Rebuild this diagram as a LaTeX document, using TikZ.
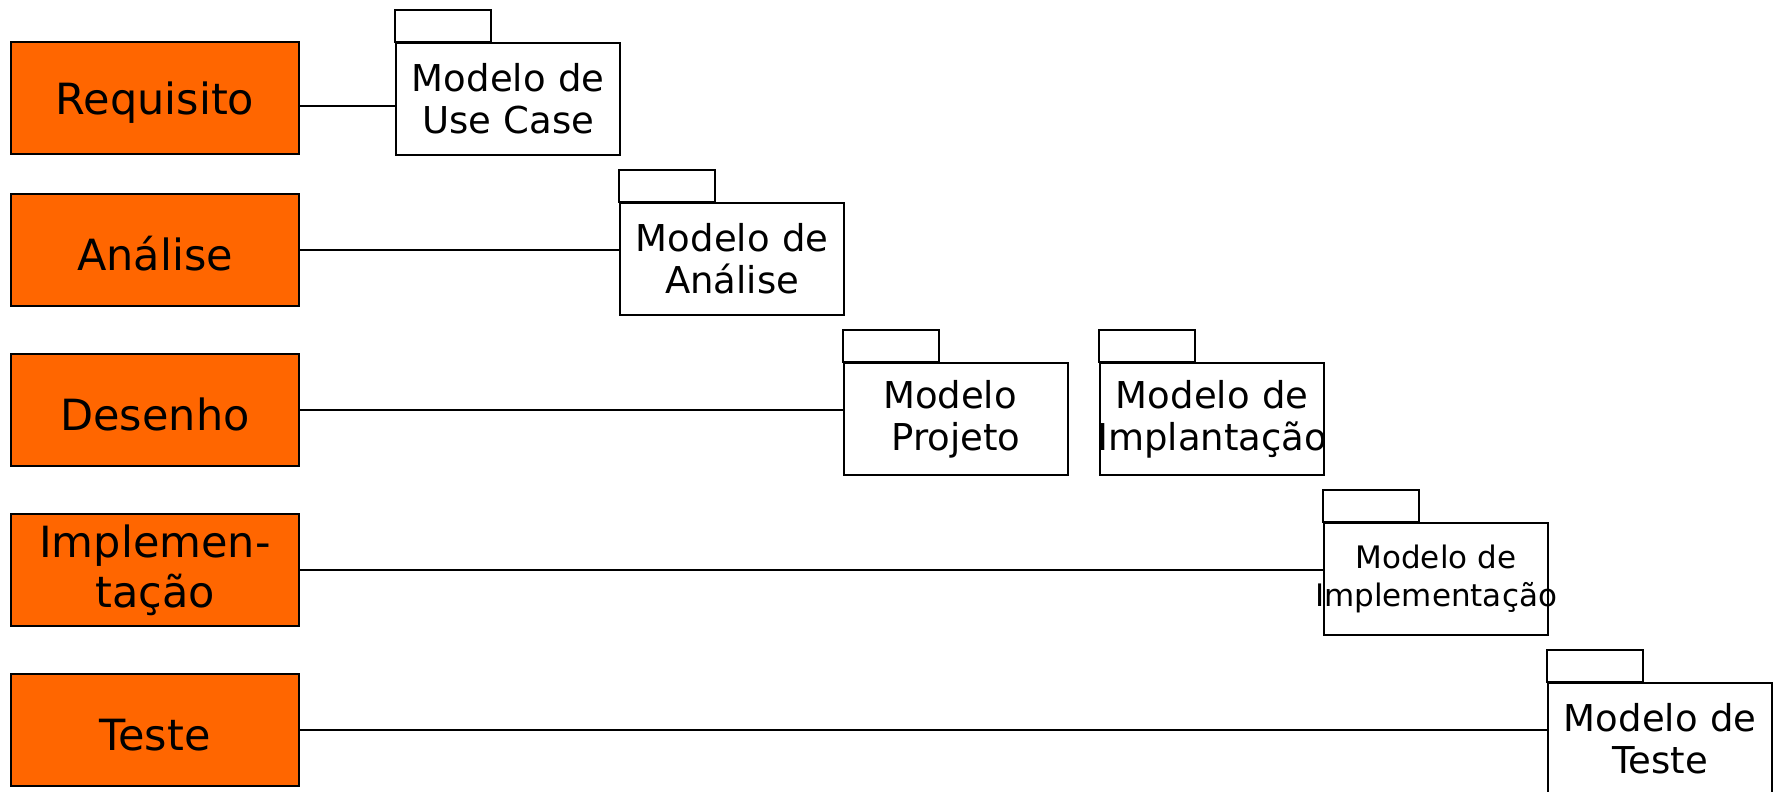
\documentclass[tikz,border=0pt]{standalone}
\usepackage{fontspec}
\setmainfont{DejaVu Sans}
\usepackage{tikz}

\definecolor{stageorange}{HTML}{FF6600}
\newcommand{\wide}[1]{\makebox[224pt][c]{#1}}

\begin{document}
\begin{tikzpicture}[x = 1pt, y = -1pt, line width = 2.2pt,
stage/.style = {draw, fill = stageorange, minimum width = 288pt, minimum height = 112pt,
	inner sep = 0pt, align = center, font = \fontsize{43}{50}\selectfont,
	execute at begin node = {\rule{0pt}{42pt}}},
model/.style = {draw, fill = white, anchor = north west, text width = 224pt, minimum height = 112pt,
	inner sep = 0pt, align = center, font = \fontsize{37}{42}\selectfont}
]
\useasboundingbox (0, 0) rectangle (1778, 792);

% fases
\node[stage] (req) at (155, 98) {Requisito};
\node[stage] (ana) at (155, 250) {Análise};
\node[stage] (des) at (155, 410) {Desenho};
\node[stage] (imp) at (155, 570) {Implemen-\\tação};
\node[stage] (tes) at (155, 730) {Teste};

% modelos
\node[model] (ucm) at (395, 42) {Modelo de\\Use Case};
\node[model] (anm) at (619, 202) {Modelo de\\Análise};
\node[model] (prm) at (843, 362) {Modelo\ \mbox{}\\Projeto};
\node[model] (ipm) at (1099, 362) {Modelo de\\\wide{Implantação}};
\node[model, font = \fontsize{31}{37.5}\selectfont] (imm) at (1323, 522) {Modelo de\\\wide{Implementação}};
\node[model] (tsm) at (1547, 682) {Modelo de\\Teste};

\draw (ucm.north west) rectangle ++(96, -32);
\draw (anm.north west) rectangle ++(96, -32);
\draw (prm.north west) rectangle ++(96, -32);
\draw (ipm.north west) rectangle ++(96, -32);
\draw (imm.north west) rectangle ++(96, -32);
\draw (tsm.north west) rectangle ++(96, -32);

\draw ([yshift = -8pt]req.east) -- ([yshift = -8pt]req.east -| ucm.west);
\draw (ana.east) -- (ana.east -| anm.west);
\draw (des.east) -- (des.east -| prm.west);
\draw (imp.east) -- (imp.east -| imm.west);
\draw (tes.east) -- (tes.east -| tsm.west);
\end{tikzpicture}
\end{document}
